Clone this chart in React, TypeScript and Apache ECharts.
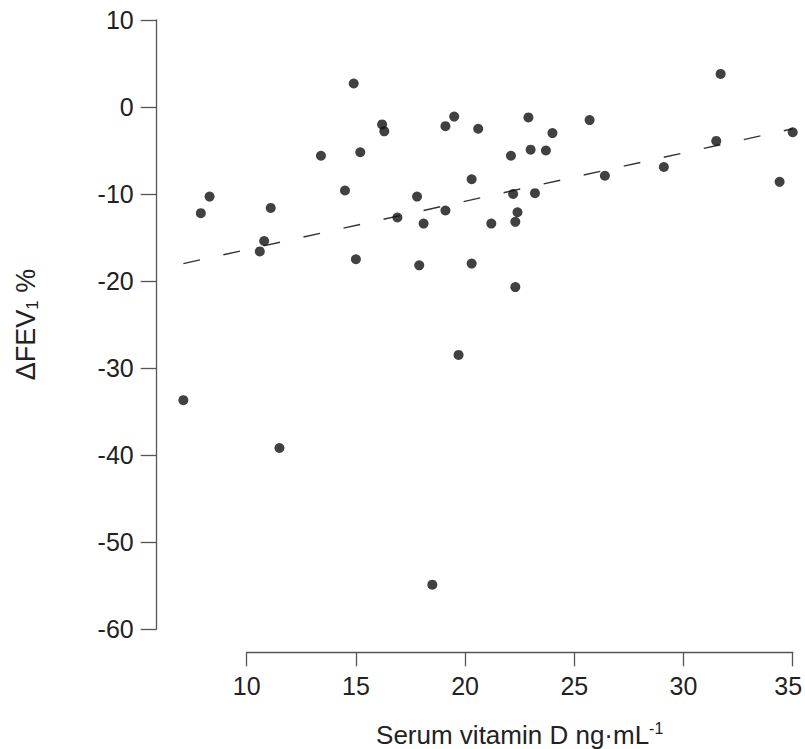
import React, { useEffect, useRef } from "react";
import * as echarts from "echarts";

// Serum vitamin D (ng·mL-1) vs ΔFEV1 %
const vitaminD: number[] = [
  7.1, 7.9, 8.3, 10.6, 10.8, 11.1, 11.5, 13.4, 14.5, 14.9, 15.0, 15.2,
  16.2, 16.3, 16.9, 17.8, 17.9, 18.1, 18.5, 19.1, 19.5, 19.1, 19.7, 20.3,
  20.3, 20.6, 21.2, 22.1, 22.2, 22.4, 22.3, 22.3, 22.9, 23.0, 23.2, 23.7,
  24.0, 25.7, 26.4, 29.1, 31.5, 31.7, 34.4, 35.0,
];
const deltaFEV1: number[] = [
  -33.7, -12.2, -10.3, -16.6, -15.4, -11.6, -39.2, -5.6, -9.6, 2.7, -17.5, -5.2,
  -2.0, -2.8, -12.7, -10.3, -18.2, -13.4, -54.9, -2.2, -1.1, -11.9, -28.5, -8.3,
  -18.0, -2.5, -13.4, -5.6, -10.0, -12.1, -13.2, -20.7, -1.2, -4.9, -9.9, -5.0,
  -3.0, -1.5, -7.9, -6.9, -3.9, 3.8, -8.6, -2.9,
];
// Fitted regression line end points
const fitX: number[] = [7.1, 35];
const fitY: number[] = [-18.0, -2.5];

const xTicks = { min: 10, max: 35, interval: 5 };
const yTicks = { min: -60, max: 10, interval: 10 };

export default function App() {
  const ref = useRef<HTMLDivElement>(null);
  useEffect(() => {
    if (!ref.current) return;
    const chart = echarts.init(ref.current, undefined, { renderer: "svg" });
    const font = "Liberation Sans, Arial, sans-serif";
    const axisColor = "#555";
    const textColor = "#222";
    chart.setOption({
      animation: false,
      backgroundColor: "#fff",
      textStyle: { fontFamily: font },
      grid: {
        left: 246.7,
        right: 12.3,
        top: 20,
        bottom: 120,
        containLabel: false,
        outerBoundsMode: "none",
      },
      xAxis: {
        type: "value",
        min: xTicks.min,
        max: xTicks.max,
        interval: xTicks.interval,
        offset: 23.3,
        axisLine: { show: true, onZero: false, lineStyle: { color: axisColor, width: 1.3 } },
        axisTick: { show: true, length: 14, lineStyle: { color: axisColor, width: 1.3 } },
        splitLine: { show: false },
        axisLabel: {
          margin: 21,
          fontSize: 25,
          color: textColor,
          fontFamily: font,
          formatter: (v: number) => (v === xTicks.max ? `{last|${v}}` : `${v}`),
          rich: {
            last: { fontSize: 25, color: textColor, fontFamily: font, padding: [0, 9, 0, 0] },
          },
        },
        name: "Serum vitamin D ng·mL{sup|-1}",
        nameLocation: "middle",
        nameGap: 68,
        nameTextStyle: {
          fontSize: 26,
          color: textColor,
          fontFamily: font,
          lineHeight: 30,
          rich: {
            sup: { fontSize: 16, verticalAlign: "top", lineHeight: 30, color: textColor, fontFamily: font },
          },
        },
      },
      yAxis: {
        type: "value",
        min: yTicks.min,
        max: yTicks.max,
        interval: yTicks.interval,
        offset: 90,
        axisLine: { show: true, onZero: false, lineStyle: { color: axisColor, width: 1.3 } },
        axisTick: { show: true, length: 16, lineStyle: { color: axisColor, width: 1.3 } },
        splitLine: { show: false },
        axisLabel: { margin: 23, fontSize: 25, color: textColor, fontFamily: font },
        name: "ΔFEV{sub|1} %",
        nameLocation: "middle",
        nameGap: 116,
        nameRotate: 90,
        nameTextStyle: {
          fontSize: 27,
          color: textColor,
          fontFamily: font,
          lineHeight: 30,
          rich: {
            sub: { fontSize: 17, verticalAlign: "bottom", lineHeight: 30, color: textColor, fontFamily: font },
          },
        },
      },
      series: [
        {
          type: "scatter",
          clip: false,
          symbol: "circle",
          symbolSize: 10,
          itemStyle: { color: "#111" },
          data: vitaminD.map((x, i) => [x, deltaFEV1[i]]),
          z: 3,
        },
        {
          type: "custom",
          clip: false,
          silent: true,
          data: [[fitX[0], fitY[0], fitX[1], fitY[1]]],
          encode: { x: [0, 2], y: [1, 3] },
          renderItem: (_params: any, api: any) => {
            const p1 = api.coord([api.value(0), api.value(1)]);
            const p2 = api.coord([api.value(2), api.value(3)]);
            return {
              type: "line",
              shape: { x1: p1[0], y1: p1[1], x2: p2[0], y2: p2[1] },
              style: { stroke: "#333", lineWidth: 1.4, lineDash: [17, 24], fill: null },
            };
          },
          z: 2,
        },
      ],
    });
    return () => chart.dispose();
  }, []);
  return (
    <div
      ref={ref}
      style={{ position: "fixed", left: 0, top: 0, width: 805, height: 749, background: "#fff" }}
    />
  );
}
